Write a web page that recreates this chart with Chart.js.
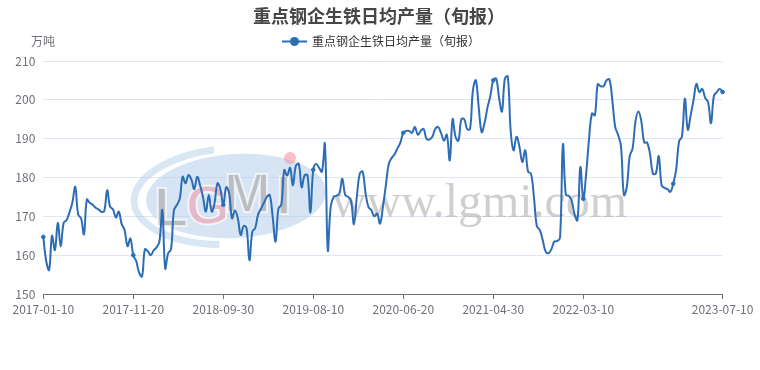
<!DOCTYPE html>
<html>
<head>
<meta charset="utf-8">
<script src="https://cdn.jsdelivr.net/npm/chart.js@4/dist/chart.umd.min.js"></script>
<style>
  html, body { margin: 0; padding: 0; background: #fff; }
  #wrap { width: 760px; height: 370px; }
</style>
</head>
<body>
<div id="wrap"><canvas id="iron.area"></canvas></div>
<script>
const chartTitle = '重点钢企生铁日均产量（旬报）';
const seriesName = '重点钢企生铁日均产量（旬报）';
const yUnit = '万吨';

// dekad dates, 2017-01-10 .. 2023-07-10
const startYear = 2017, startMonth = 1;
const endYear = 2023, endMonth = 7;

// y axis ticks
const yTicks = [150, 160, 170, 180, 190, 200, 210];

// daily average pig iron output, 10k tonnes (one value per dekad)
const output = [
    164.7, 158.5, 156.2, 165.0, 161.3, 168.3, 162.2, 168.3, 169.0, 171.0,
    173.5, 177.6, 170.5, 169.5, 165.4, 174.3, 173.5, 173.0, 172.2, 171.8,
    171.2, 171.4, 176.7, 172.5, 171.8, 169.7, 171.2, 168.0, 166.5, 162.3,
    164.3, 160.0, 158.5, 155.5, 154.5, 161.5, 161.0, 160.0, 161.2, 162.0,
    163.5, 171.6, 156.6, 160.5, 161.5, 171.6, 172.9, 174.5, 180.2, 178.5,
    180.6, 179.5, 177.0, 180.2, 178.0, 175.0, 171.2, 175.5, 171.2, 173.5,
    178.5, 177.0, 173.0, 177.5, 176.0, 169.5, 171.5, 169.5, 165.2, 167.5,
    167.0, 158.7, 166.0, 167.0, 170.5, 172.0, 173.5, 175.0, 175.5, 170.0,
    163.5, 172.0, 173.0, 181.9, 180.5, 182.5, 178.0, 183.0, 183.5, 177.5,
    180.5, 180.6, 171.0, 182.0, 183.5, 182.5, 181.5, 188.7, 161.3, 172.5,
    175.0, 175.3, 175.9, 179.7, 175.5, 175.0, 174.0, 168.0, 175.0, 181.0,
    181.5, 176.0, 172.4, 171.6, 170.0, 170.7, 168.1, 172.5, 178.0, 183.5,
    185.0, 186.0, 187.5, 189.0, 191.5, 192.0, 192.0, 191.5, 193.0, 191.0,
    192.0, 192.5, 190.0, 189.8, 190.5, 192.5, 193.0, 191.5, 189.5, 191.0,
    184.4, 195.0, 190.5, 189.5, 195.0, 195.0, 192.5, 192.5, 202.5, 205.0,
    198.0, 191.7, 194.0, 198.0, 201.0, 205.0, 205.5, 200.5, 197.0, 205.5,
    206.0, 192.0, 187.0, 190.5, 188.0, 184.0, 187.0, 181.5, 181.0, 175.0,
    167.5, 166.5, 164.0, 161.0, 160.5, 161.5, 163.5, 163.6, 164.5, 188.5,
    175.5, 175.3, 174.0, 170.5, 169.0, 182.7, 174.5, 181.0, 190.0, 196.5,
    196.0, 204.0, 203.5, 203.5, 205.0, 205.3, 200.0, 193.0, 191.0, 188.0,
    175.5, 177.5, 185.5, 187.5, 194.5, 197.0, 194.5, 189.0, 189.0, 186.0,
    181.0, 181.0, 185.5, 178.0, 177.3, 177.0, 176.3, 178.4, 182.0, 189.3,
    190.5, 200.3, 192.3, 196.0, 200.0, 204.1, 202.0, 202.8, 200.5, 199.4,
    194.0, 201.0, 202.0, 202.8, 202.0
];

const lineColor = '#2d6db5';
const labelEvery = 31;

function pad2(n) { return n < 10 ? '0' + n : '' + n; }
function dekadLabels() {
    const out = [];
    let y = startYear, m = startMonth;
    while (y < endYear || (y === endYear && m <= endMonth)) {
        const last = new Date(y, m, 0).getDate();
        for (const d of [10, 20, last]) {
            if (y === endYear && m === endMonth && d > 10) break;
            out.push(y + '-' + pad2(m) + '-' + pad2(d));
        }
        m++;
        if (m > 12) { m = 1; y++; }
    }
    return out;
}
const dates = dekadLabels();
const lastIdx = dates.length - 1;

function hasSymbol(i) {
    return i % labelEvery === 0 || i === lastIdx;
}
function shownLabel(i) {
    if (i === lastIdx) return true;
    // the one that would crowd the last label is dropped
    return i % labelEvery === 0 && lastIdx - i >= labelEvery;
}

const cjk = '"Noto Sans CJK SC", "Noto Sans", sans-serif';

// title, legend, axis unit and the lgmi watermark
const decorPlugin = {
    id: 'decor',
    beforeDatasetsDraw(chart) {
        const ctx = chart.ctx;
        ctx.save();
        // logo ellipse
        ctx.translate(236, 196);
        ctx.rotate(-0.06);
        ctx.beginPath();
        ctx.ellipse(0, 0, 90, 42, 0, 0, Math.PI * 2);
        ctx.fillStyle = 'rgba(180, 205, 234, 0.55)';
        ctx.fill();
        ctx.beginPath();
        ctx.ellipse(-4, 0, 98, 48, 0, Math.PI * 0.55, Math.PI * 1.45);
        ctx.lineWidth = 7;
        ctx.strokeStyle = 'rgba(180, 205, 234, 0.5)';
        ctx.stroke();
        ctx.restore();

        ctx.save();
        ctx.font = 'bold 56px "Liberation Sans", sans-serif';
        ctx.textBaseline = 'alphabetic';
        ctx.lineWidth = 2;
        ctx.strokeStyle = 'rgba(255, 255, 255, 0.7)';
        const letters = [
            ['L', 154, 226, 'rgba(170, 170, 170, 0.65)'],
            ['G', 186, 224, 'rgba(240, 150, 165, 0.55)'],
            ['M', 224, 212, 'rgba(170, 170, 170, 0.65)'],
            ['I', 276, 214, 'rgba(170, 170, 170, 0.65)']
        ];
        for (const [t, x, y, c] of letters) {
            ctx.fillStyle = c;
            ctx.fillText(t, x, y);
            ctx.strokeText(t, x, y);
        }
        ctx.beginPath();
        ctx.arc(290, 158, 6, 0, Math.PI * 2);
        ctx.fillStyle = 'rgba(240, 150, 165, 0.6)';
        ctx.fill();

        // site name
        ctx.font = '48px "Liberation Serif", serif';
        const site = 'www.lgmi.com';
        const w = ctx.measureText(site).width;
        ctx.translate(332, 217);
        ctx.scale(295 / w, 1);
        ctx.fillStyle = 'rgba(160, 160, 160, 0.5)';
        ctx.fillText(site, 0, 0);
        ctx.restore();
    },
    afterDraw(chart) {
        const ctx = chart.ctx;
        ctx.save();
        // title
        ctx.font = 'bold 18px ' + cjk;
        ctx.fillStyle = '#464646';
        ctx.textAlign = 'center';
        ctx.textBaseline = 'middle';
        ctx.fillText(chartTitle, 379, 16);
        // legend
        const ly = 41.5;
        ctx.strokeStyle = lineColor;
        ctx.lineWidth = 2;
        ctx.beginPath();
        ctx.moveTo(282, ly);
        ctx.lineTo(307, ly);
        ctx.stroke();
        ctx.beginPath();
        ctx.arc(294.5, ly, 4.5, 0, Math.PI * 2);
        ctx.fillStyle = lineColor;
        ctx.fill();
        ctx.font = '12px ' + cjk;
        ctx.fillStyle = '#333';
        ctx.textAlign = 'left';
        ctx.fillText(seriesName, 312, ly);
        // y unit
        ctx.fillStyle = '#6E7079';
        ctx.textAlign = 'center';
        ctx.fillText(yUnit, 43, ly);
        ctx.restore();
    }
};

const config = {
    type: 'line',
    data: {
        labels: dates,
        datasets: [{
            label: seriesName,
            data: output,
            borderColor: lineColor,
            backgroundColor: lineColor,
            borderWidth: 2,
            tension: 0.4,
            pointRadius: (c) => hasSymbol(c.dataIndex) ? 1.8 : 0,
            pointHoverRadius: 3,
            pointBackgroundColor: lineColor,
            pointBorderWidth: 1
        }]
    },
    options: {
        responsive: true,
        maintainAspectRatio: false,
        animation: false,
        layout: { padding: { top: 61, right: 37.4, left: 0, bottom: 0 } },
        plugins: {
            legend: { display: false },
            title: { display: false },
            tooltip: { mode: 'index', intersect: false }
        },
        scales: {
            x: {
                afterFit: (s) => { s.height = 76; },
                border: { display: true, color: '#6E7079', width: 1 },
                grid: {
                    display: true,
                    drawOnChartArea: false,
                    drawTicks: true,
                    tickLength: 5,
                    color: '#6E7079'
                },
                ticks: {
                    autoSkip: false,
                    maxRotation: 0,
                    padding: 3,
                    color: '#6E7079',
                    font: { size: 12, family: cjk },
                    callback: function (v, i) {
                        return shownLabel(i) ? dates[i] : null;
                    }
                }
            },
            y: {
                min: yTicks[0],
                max: yTicks[yTicks.length - 1],
                afterFit: (s) => { s.width = 43.3; },
                afterBuildTicks: (s) => { s.ticks = yTicks.map(v => ({ value: v })); },
                border: { display: false },
                grid: { color: '#E0E6F1', drawTicks: false },
                ticks: {
                    padding: 8,
                    color: '#6E7079',
                    font: { size: 12, family: cjk }
                }
            }
        }
    },
    plugins: [decorPlugin]
};

const chart = new Chart(document.getElementById('iron.area'), config);
</script>
</body>
</html>
